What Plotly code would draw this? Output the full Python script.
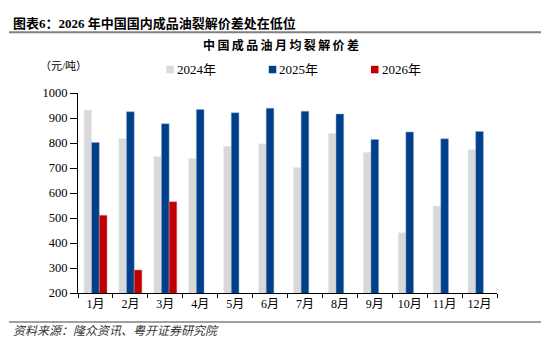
import plotly.graph_objects as go

months = ["1月", "2月", "3月", "4月", "5月", "6月", "7月", "8月", "9月", "10月", "11月", "12月"]
y2024 = [932, 818, 746, 738, 787, 797, 702, 838, 763, 441, 548, 773]
y2025 = [802, 925, 877, 934, 921, 939, 927, 916, 814, 844, 817, 846]
y2026 = [511, 292, 565]
series_names = ["2024年", "2025年", "2026年"]
series_colors = ["#D9D9D9", "#003F8A", "#C00000"]
edge_colors = ["#ECECEC", "#8FA8CC", "#E08080"]

FONT = "Liberation Serif, Noto Sans CJK SC, serif"

fig = go.Figure()
for name, vals, col, edge in zip(series_names, [y2024, y2025, y2026], series_colors, edge_colors):
    fig.add_bar(x=months[:len(vals)], y=vals, name=name,
                marker=dict(color=col, line=dict(color=edge, width=0.5)))

L, R, T, B = 78, 497, 92.7, 292.7
def px(x):
    return (x - L) / (R - L)
def py(y):
    return (B - y) / (B - T)

fig.update_layout(
    width=550, height=351,
    margin=dict(l=L, r=550 - R, t=T, b=351 - B),
    paper_bgcolor="white", plot_bgcolor="white",
    barmode="group", bargap=0.34, bargroupgap=0,
    font=dict(family=FONT, size=12, color="#000000"),
    showlegend=False,
    xaxis=dict(showline=True, linecolor="#000000", linewidth=1, ticks="outside", ticklen=4,
               tickcolor="#000000", tickson="boundaries", showgrid=False,
               tickfont=dict(family=FONT, size=12)),
    yaxis=dict(range=[200, 1000], dtick=100, showline=True, linecolor="#000000", linewidth=1,
               ticks="outside", ticklen=7, tickcolor="#000000", showgrid=False, zeroline=False,
               tickfont=dict(family=FONT, size=12.5)),
)

# manual legend
leg_x = [166.4, 268.8, 371.0]
for name, col, x0 in zip(series_names, series_colors, leg_x):
    fig.add_shape(type="rect", xref="paper", yref="paper", x0=px(x0), x1=px(x0 + 7.5),
                  y0=py(73), y1=py(65.5), fillcolor=col, line=dict(width=0))
    fig.add_annotation(text=name, xref="paper", yref="paper", x=px(x0 + 8.5), y=py(69.5),
                       xanchor="left", yanchor="middle", showarrow=False,
                       font=dict(family=FONT, size=13, color="#000000"))

fig.add_annotation(text="<b>图表6：2026 年中国国内成品油裂解价差处在低位</b>", xref="paper", yref="paper",
                   x=px(11), y=py(23.5), xanchor="left", yanchor="middle", showarrow=False,
                   font=dict(family=FONT, size=13, color="#000000"))
fig.add_shape(type="line", xref="paper", yref="paper", x0=px(9), x1=px(541), y0=py(32), y1=py(32),
              line=dict(color="#808080", width=2))
fig.add_annotation(text="<b>" + "\u2009".join("中国成品油月均裂解价差") + "</b>", xref="paper", yref="paper",
                   x=px(281), y=py(45.5), xanchor="center", yanchor="middle", showarrow=False,
                   font=dict(family=FONT, size=12, color="#000000"))
fig.add_annotation(text="（元/吨）", xref="paper", yref="paper",
                   x=px(38), y=py(66), xanchor="left", yanchor="middle", showarrow=False,
                   font=dict(family=FONT, size=11, color="#000000"))
fig.add_shape(type="line", xref="paper", yref="paper", x0=px(9), x1=px(541), y0=py(321.7), y1=py(321.7),
              line=dict(color="#A0A0A0", width=2))
fig.add_annotation(text="<i>资料来源：隆众资讯、粤开证券研究院</i>", xref="paper", yref="paper",
                   x=px(11), y=py(330.5), xanchor="left", yanchor="middle", showarrow=False,
                   font=dict(family=FONT, size=12, color="#333333"))

fig.write_html("out.html")
